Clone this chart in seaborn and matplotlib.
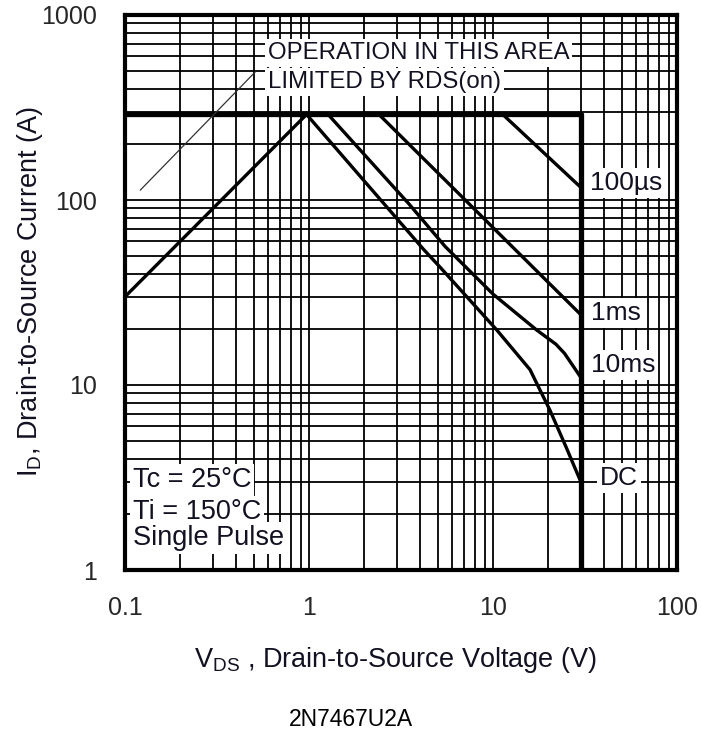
import numpy as np
import pandas as pd
import matplotlib
matplotlib.use("Agg")
import matplotlib.pyplot as plt
from matplotlib.ticker import LogLocator, FixedLocator, FixedFormatter, NullFormatter
import seaborn as sns

# ---- data ----
v_rds = [0.1, 0.97]
i_rds = [30, 290]

v_limit = [0.1, 30, 30]
i_limit = [290, 290, 1]

v_100us = [11.3, 30]
i_100us = [290, 117]

v_1ms = [2.4, 30]
i_1ms = [290, 24]

v_10ms = [1.27, 3.5, 5.5, 10.0, 17.3, 22.0, 24.5, 30]
i_10ms = [290, 95, 56, 31, 19.8, 16.6, 14.8, 11.0]

v_dc = [0.97, 4.2, 5.15, 10.5, 15.9, 18.0, 20.4, 25, 30]
i_dc = [290, 54, 43.4, 19.8, 12.1, 9.4, 7.3, 4.6, 3.0]

x_ticks = [0.1, 1, 10, 100]
x_tick_labels = ["0.1", "1", "10", "100"]
y_ticks = [1, 10, 100, 1000]
y_tick_labels = ["1", "10", "100", "1000"]

curve_labels = ["100µs", "1ms", "10ms", "DC"]
curve_label_x = [33.5, 34, 34, 38]
curve_label_y = [124, 24.5, 12.8, 3.14]

cond_lines = ["Tc = 25°C", "Ti = 150°C", "Single Pulse"]
cond_y = [3.06, 2.06, 1.49]

area_lines = ["OPERATION IN THIS AREA", "LIMITED BY RDS(on)"]
area_y = [623, 435]

pointer_v = [0.121, 0.51]
pointer_i = [113, 492]

title = "2N7467U2A"

# ---- style ----
sns.set_theme(style="white")
plt.rcParams["font.family"] = ["Liberation Sans", "DejaVu Sans"]
plt.rcParams["mathtext.fontset"] = "custom"
plt.rcParams["mathtext.rm"] = "Liberation Sans"
plt.rcParams["mathtext.it"] = "Liberation Sans"

W, H = 701, 745
fig = plt.figure(figsize=(W / 100, H / 100), dpi=100)
ax = fig.add_axes([125 / W, 1 - 570 / H, (677 - 125) / W, (570 - 15) / H])

ax.set_xscale("log")
ax.set_yscale("log")
ax.set_xlim(0.1, 100)
ax.set_ylim(1, 1000)

# grid
ax.xaxis.set_major_locator(FixedLocator(x_ticks))
ax.xaxis.set_major_formatter(FixedFormatter(x_tick_labels))
ax.yaxis.set_major_locator(FixedLocator(y_ticks))
ax.yaxis.set_major_formatter(FixedFormatter(y_tick_labels))
ax.xaxis.set_minor_locator(LogLocator(base=10, subs=np.arange(2, 10)))
ax.yaxis.set_minor_locator(LogLocator(base=10, subs=np.arange(2, 10)))
ax.xaxis.set_minor_formatter(NullFormatter())
ax.yaxis.set_minor_formatter(NullFormatter())
ax.grid(True, which="both", color="black", linewidth=1.3, zorder=1)
ax.set_axisbelow(True)
ax.tick_params(which="both", length=0)
ax.tick_params(axis="x", pad=19, labelsize=18)
ax.tick_params(axis="y", pad=20, labelsize=18)
for s in ax.spines.values():
    s.set_color("black")
    s.set_linewidth(3)
    s.set_zorder(10)

# curves
def draw(v, i, lw):
    df = pd.DataFrame({"V": v, "I": i})
    sns.lineplot(data=df, x="V", y="I", ax=ax, color="black", linewidth=lw,
                 sort=False, estimator=None, zorder=5)

draw(v_rds, i_rds, 2.4)
draw(v_limit, i_limit, 3.8)
draw(v_100us, i_100us, 2.4)
draw(v_1ms, i_1ms, 2.4)
draw(v_10ms, i_10ms, 2.4)
draw(v_dc, i_dc, 2.4)
ax.plot(pointer_v, pointer_i, color="#333333", linewidth=0.9, zorder=5)

box = dict(facecolor="white", edgecolor="none", pad=2)
tc = "#111122"
for lab, xv, yv in zip(curve_labels, curve_label_x, curve_label_y):
    ax.text(xv, yv, lab, fontsize=19, color=tc, ha="left", va="center",
            bbox=box, zorder=6)
for lab, yv in zip(cond_lines, cond_y):
    ax.text(0.1105, yv, lab, fontsize=19.5, color=tc, ha="left", va="center",
            bbox=box, zorder=6)
for lab, yv in zip(area_lines, area_y):
    ax.text(0.598, yv, lab, fontsize=17.3, color=tc, ha="left", va="center",
            bbox=box, zorder=6)

ax.set_xlabel(r"V$_{\mathregular{DS}}$ , Drain-to-Source Voltage (V)",
              fontsize=19.5, color=tc, va="baseline", ha="center")
ax.xaxis.set_label_coords((396 - 125) / 552, (570 - 667) / 555)
ax.set_ylabel(r"I$_{\mathregular{D}}$, Drain-to-Source Current (A)",
              fontsize=19.5, color=tc, va="center", ha="center")
ax.yaxis.set_label_coords((30 - 125) / 552, (570 - 292) / 555)

fig.text(0.5, 1 - 720 / H, title, ha="center", va="center", fontsize=16.5,
         color="black")

fig.savefig("out.png", dpi=100)
